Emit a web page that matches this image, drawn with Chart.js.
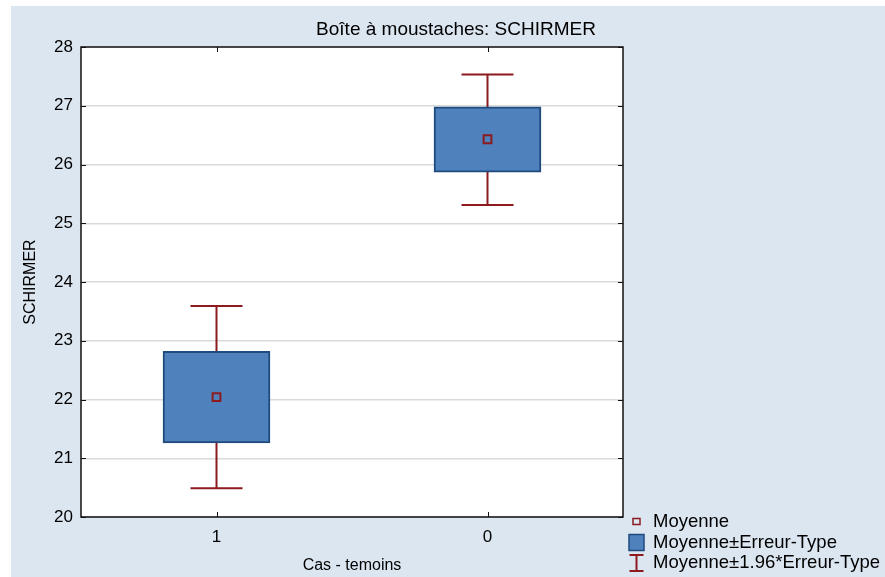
<!DOCTYPE html>
<html>
<head>
<meta charset="utf-8">
<title>Boîte à moustaches: SCHIRMER</title>
<script src="https://cdn.jsdelivr.net/npm/chart.js@4.4.0/dist/chart.umd.min.js"></script>
<style>
  html, body { margin: 0; padding: 0; background: #fff; }
  #wrap {
    position: absolute; left: 11px; top: 6px;
    width: 874px; height: 571px;
    background: #dce6f1;
  }
</style>
</head>
<body>
<div id="wrap"><canvas id="boxChart"></canvas></div>
<script>
// groupes (Cas - temoins) et statistiques de SCHIRMER
const groupLabels = ['1', '0'];
const meanValues = [22.04, 26.43];
const seLower = [21.26, 25.87];   // moyenne - erreur-type
const seUpper = [22.82, 26.98];   // moyenne + erreur-type
const ciLower = [20.49, 25.31];   // moyenne - 1.96 * erreur-type
const ciUpper = [23.59, 27.53];   // moyenne + 1.96 * erreur-type
const yTickValues = [20, 21, 22, 23, 24, 25, 26, 27, 28];
const legendLabels = ['Moyenne', 'Moyenne±Erreur-Type', 'Moyenne±1.96*Erreur-Type'];

const FONT = '"Liberation Sans", Arial, sans-serif';
const RED = '#8c1a1f';
const BLUE = '#4f81bd';
const NAVY = '#1f4a7e';

// fond blanc de la zone de tracé
const plotBg = {
  id: 'plotBg',
  beforeDraw(chart) {
    const { ctx, chartArea: a } = chart;
    ctx.save();
    ctx.fillStyle = '#fff';
    ctx.fillRect(a.left, a.top, a.right - a.left, a.bottom - a.top);
    ctx.restore();
  }
};

// moustaches : trait vertical + barres horizontales, dessinés sous les boîtes
const whiskers = {
  id: 'whiskers',
  beforeDatasetsDraw(chart) {
    const { ctx, scales: { x, y } } = chart;
    ctx.save();
    ctx.strokeStyle = RED;
    ctx.lineWidth = 2;
    groupLabels.forEach((g, i) => {
      const cx = x.getPixelForValue(i);
      const top = y.getPixelForValue(ciUpper[i]);
      const bot = y.getPixelForValue(ciLower[i]);
      ctx.beginPath();
      ctx.moveTo(cx, top); ctx.lineTo(cx, bot);
      ctx.moveTo(cx - 26, top); ctx.lineTo(cx + 26, top);
      ctx.moveTo(cx - 26, bot); ctx.lineTo(cx + 26, bot);
      ctx.stroke();
    });
    ctx.restore();
  }
};

// cadre du graphique et petites graduations vers l'intérieur
const frame = {
  id: 'frame',
  afterDatasetsDraw(chart) {
    const { ctx, chartArea: a, scales: { x, y } } = chart;
    ctx.save();
    ctx.strokeStyle = '#111';
    ctx.lineWidth = 1;
    ctx.beginPath();
    yTickValues.forEach(v => {
      const py = Math.round(y.getPixelForValue(v)) + 0.5;
      ctx.moveTo(a.left, py); ctx.lineTo(a.left + 5, py);
      ctx.moveTo(a.right - 5, py); ctx.lineTo(a.right, py);
    });
    groupLabels.forEach((g, i) => {
      const px = Math.round(x.getPixelForValue(i)) + 0.5;
      ctx.moveTo(px, a.top); ctx.lineTo(px, a.top + 5);
      ctx.moveTo(px, a.bottom - 5); ctx.lineTo(px, a.bottom);
    });
    ctx.stroke();
    ctx.lineWidth = 1.5;
    ctx.strokeRect(a.left, a.top, a.right - a.left, a.bottom - a.top);
    ctx.restore();
  }
};

// titre et légende placés à droite sous le graphique
const titleLegend = {
  id: 'titleLegend',
  afterDraw(chart) {
    const { ctx } = chart;
    ctx.save();
    ctx.fillStyle = '#000';
    ctx.textBaseline = 'middle';
    ctx.textAlign = 'center';
    ctx.font = '19px ' + FONT;
    ctx.fillText('Boîte à moustaches: SCHIRMER', 445, 24);

    const mx = 625.5, tx = 642;
    const rows = [515.5, 536.5, 557];
    ctx.font = '18.5px ' + FONT;
    ctx.textAlign = 'left';

    // Moyenne
    ctx.strokeStyle = RED;
    ctx.lineWidth = 1.5;
    ctx.strokeRect(mx - 3.5, rows[0] - 3, 7, 6);
    // Moyenne±Erreur-Type
    ctx.fillStyle = BLUE;
    ctx.fillRect(mx - 7.5, rows[1] - 8, 15, 16);
    ctx.strokeStyle = NAVY;
    ctx.strokeRect(mx - 7.5, rows[1] - 8, 15, 16);
    // Moyenne±1.96*Erreur-Type
    ctx.strokeStyle = RED;
    ctx.lineWidth = 2;
    ctx.beginPath();
    ctx.moveTo(mx, rows[2] - 8); ctx.lineTo(mx, rows[2] + 8);
    ctx.moveTo(mx - 7, rows[2] - 8); ctx.lineTo(mx + 7, rows[2] - 8);
    ctx.moveTo(mx - 7, rows[2] + 8); ctx.lineTo(mx + 7, rows[2] + 8);
    ctx.stroke();

    ctx.fillStyle = '#000';
    legendLabels.forEach((t, i) => ctx.fillText(t, tx, rows[i]));
    ctx.restore();
  }
};

new Chart(document.getElementById('boxChart'), {
  type: 'bar',
  data: {
    labels: groupLabels,
    datasets: [
      {
        type: 'line',
        label: legendLabels[0],
        data: meanValues,
        showLine: false,
        pointStyle: 'rect',
        pointRadius: 5.5,
        pointBorderWidth: 2,
        pointBorderColor: RED,
        pointBackgroundColor: 'rgba(0,0,0,0)',
        order: 1
      },
      {
        type: 'bar',
        label: legendLabels[1],
        data: groupLabels.map((g, i) => [seLower[i], seUpper[i]]),
        backgroundColor: BLUE,
        borderColor: NAVY,
        borderWidth: 2,
        borderSkipped: false,
        barThickness: 107,
        order: 2
      }
    ]
  },
  options: {
    responsive: true,
    maintainAspectRatio: false,
    animation: false,
    layout: { padding: { top: 41, right: 262, left: 0, bottom: 0 } },
    plugins: {
      legend: { display: false },
      title: { display: false },
      tooltip: { enabled: false }
    },
    scales: {
      x: {
        grid: { display: false, drawTicks: false },
        border: { display: false },
        ticks: { color: '#000', font: { family: FONT, size: 17 }, padding: 10 },
        title: {
          display: true, text: 'Cas - temoins', color: '#000',
          font: { family: FONT, size: 16 }, padding: { top: 0, bottom: 2 }
        },
        afterFit(scale) { scale.height = 60; }
      },
      y: {
        min: yTickValues[0],
        max: yTickValues[yTickValues.length - 1],
        afterBuildTicks(scale) { scale.ticks = yTickValues.map(v => ({ value: v })); },
        grid: { color: '#dadada', lineWidth: 1.5, drawTicks: false },
        border: { display: false },
        ticks: { color: '#000', font: { family: FONT, size: 17 }, padding: 8 },
        title: {
          display: true, text: 'SCHIRMER', color: '#000',
          font: { family: FONT, size: 16 }, padding: { top: 10, bottom: 0 }
        },
        afterFit(scale) { scale.width = 70; }
      }
    }
  },
  plugins: [plotBg, whiskers, frame, titleLegend]
});
</script>
</body>
</html>
